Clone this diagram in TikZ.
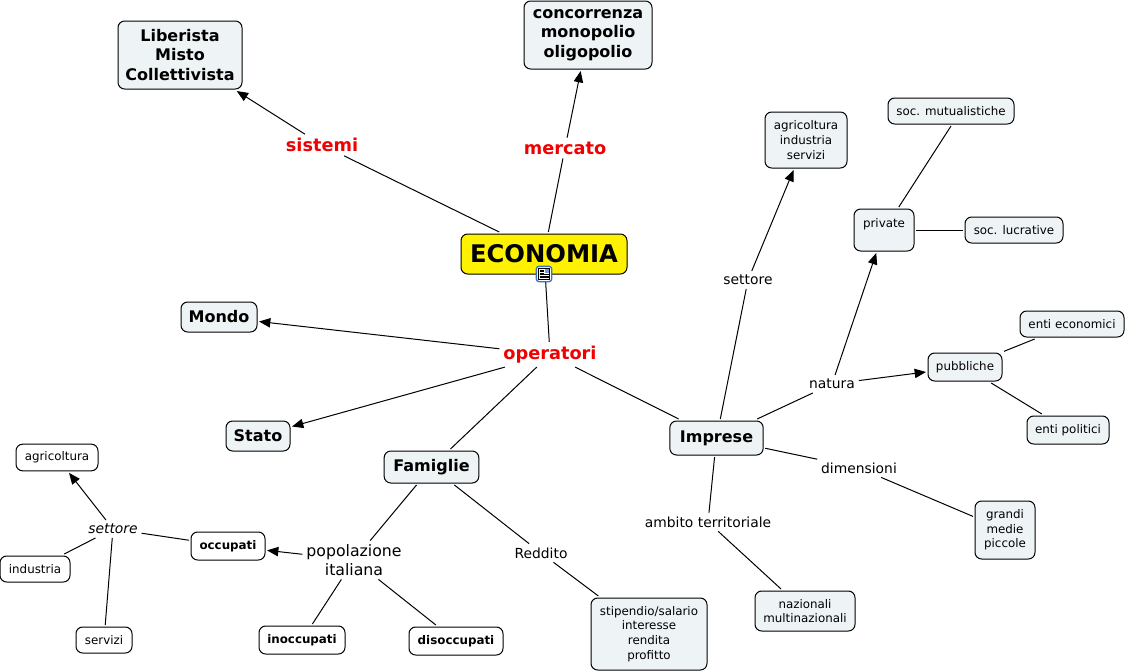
\documentclass[tikz,border=0pt]{standalone}
\usepackage{fontspec}
\setmainfont{DejaVu Sans}
\usetikzlibrary{arrows.meta}
\definecolor{boxfill}{HTML}{EEF4F6}
\definecolor{labelred}{HTML}{F00000}
\definecolor{iconblue}{HTML}{3B74C4}
\tikzset{every picture/.style={line width=0.75pt}}
\tikzset{
  box/.style={draw, rounded corners=5pt, fill=boxfill, align=center, inner sep=0pt, outer sep=1.5pt},
  plainbox/.style={box, fill=white},
  small/.style={font=\fontsize{8.9}{11}\selectfont},
  smallb/.style={font=\fontsize{8.9}{11}\selectfont\bfseries},
  big/.style={font=\fontsize{12}{14.5}\selectfont\bfseries},
  link/.style={align=center, inner sep=1pt, outer sep=2pt, fill=none, font=\fontsize{10.4}{12}\selectfont},
  redlink/.style={link, text=labelred, font=\fontsize{13.3}{15}\selectfont\bfseries},
  arrow/.style={-{Triangle[length=8.5pt,width=7pt]}},
}

\begin{document}
\begin{tikzpicture}[x=0.75pt,y=-0.75pt]
  \useasboundingbox (0,0) rectangle (1126,671);

  % --- i concetti ---
  \node[box, fill=yellow, minimum width=124.5pt, minimum height=30pt,
        font=\fontsize{18.2}{21}\selectfont\bfseries] (economia) at (544,254) {ECONOMIA};
  \node[box, big, minimum width=93pt, minimum height=51pt] (sistemi-box) at (180,55) {Liberista\\Misto\\Collettivista};
  \node[box, big, minimum width=96pt, minimum height=51pt] (mercato-box) at (588,35) {concorrenza\\monopolio\\oligopolio};
  \node[box, big, minimum width=57pt, minimum height=22.5pt] (mondo) at (219,317) {Mondo};
  \node[box, big, minimum width=48pt, minimum height=22.5pt] (stato) at (258,436) {Stato};
  \node[box, big, minimum width=71pt, minimum height=24pt] (famiglie) at (431.5,467) {Famiglie};
  \node[box, big, minimum width=70pt, minimum height=25.5pt] (imprese) at (716.5,438) {Imprese};

  % --- imprese ---
  \node[box, small, minimum width=61.5pt, minimum height=42pt] (settori) at (806,140) {agricoltura\\industria\\servizi};
  \node[box, small, minimum width=94.5pt, minimum height=19.5pt] (mutual) at (951,111) {soc. mutualistiche};
  \node[box, small, minimum width=45pt, minimum height=31.5pt] (private) at (884,230) {private\\\mbox{}};
  \node[box, small, minimum width=73.5pt, minimum height=19.5pt] (lucrative) at (1014,230) {soc. lucrative};
  \node[box, small, minimum width=55.5pt, minimum height=21pt] (pubbliche) at (965,367) {pubbliche};
  \node[box, small, minimum width=78pt, minimum height=19.5pt] (economici) at (1072,324) {enti economici};
  \node[box, small, minimum width=61.5pt, minimum height=21pt] (politici) at (1068,430) {enti politici};
  \node[box, small, minimum width=45pt, minimum height=43.5pt] (grandi) at (1005,530) {grandi\\medie\\piccole};
  \node[box, small, minimum width=75pt, minimum height=30pt] (nazionali) at (805,611) {nazionali\\multinazionali};

  % --- famiglie ---
  \node[box, small, minimum width=87pt, minimum height=54pt] (stipendio) at (649,634) {stipendio/salario\\interesse\\rendita\\profitto};
  \node[plainbox, smallb, minimum width=70.5pt, minimum height=21pt] (disoccupati) at (456,641) {disoccupati};
  \node[plainbox, smallb, minimum width=64.5pt, minimum height=21pt] (inoccupati) at (302,640) {inoccupati};
  \node[plainbox, smallb, minimum width=55.5pt, minimum height=21pt] (occupati) at (228,546) {occupati};
  \node[plainbox, small, minimum width=61.5pt, minimum height=20pt] (agricoltura) at (57,457.5) {agricoltura};
  \node[plainbox, small, minimum width=52.5pt, minimum height=19.5pt] (industria) at (35,569) {industria};
  \node[plainbox, small, minimum width=42pt, minimum height=19.5pt] (servizi) at (104,640) {servizi};

  % --- etichette ---
  \node[redlink] (sistemi) at (322,145) {sistemi};
  \node[redlink] (mercato) at (565,148) {mercato};
  \node[redlink] (operatori) at (550,354.5) {operatori};
  \node[link] (settore) at (748,280) {settore};
  \node[link] (natura) at (832,384) {natura};
  \node[link] (dimensioni) at (859,468) {dimensioni};
  \node[link] (ambito) at (708,522) {ambito territoriale};
  \node[link] (reddito) at (541,553) {Reddito};
  \node[link, font=\fontsize{11.8}{14}\selectfont] (popolazione) at (354,560) {popolazione\\italiana};
  \node[link, font=\fontsize{10.4}{12}\selectfont\itshape] (settore-occ) at (113,529) {settore};

  % --- connettori ---
  \foreach \a/\b in {economia/sistemi,economia/mercato,economia/operatori,
                     operatori/famiglie,operatori/imprese,imprese/settore,
                     imprese/natura,imprese/dimensioni,imprese/ambito,
                     dimensioni/grandi,ambito/nazionali,
                     private/lucrative,pubbliche/economici,pubbliche/politici,
                     famiglie/popolazione,famiglie/reddito,reddito/stipendio,
                     popolazione/inoccupati,popolazione/disoccupati,
                     occupati/settore-occ,settore-occ/industria,settore-occ/servizi}
    \draw (\a) -- (\b);
  \draw (private) -- (mutual.south);
  \foreach \a/\b in {sistemi/sistemi-box,mercato/mercato-box,operatori/mondo,
                     operatori/stato,settore/settori,natura/private,
                     natura/pubbliche,popolazione/occupati,settore-occ/agricoltura}
    \draw[arrow] (\a) -- (\b);

  % --- icona ---
  \node[draw=iconblue, fill=white, rounded corners=2pt, line width=1pt,
        minimum size=11.5pt, inner sep=0pt] (icona) at (544,274) {};
  \draw[line width=0.5pt] (538.5,268.5) rectangle (549.5,279.5);
  \foreach \y in {270,271.5,273}
    \draw[line width=0.4pt] (539.5,\y) -- (544,\y);
  \foreach \y in {274.5,276,277.5}
    \draw[line width=0.4pt] (539.5,\y) -- (548.5,\y);
  \fill[iconblue!70] (545,269) rectangle (549,273);
\end{tikzpicture}
\end{document}
